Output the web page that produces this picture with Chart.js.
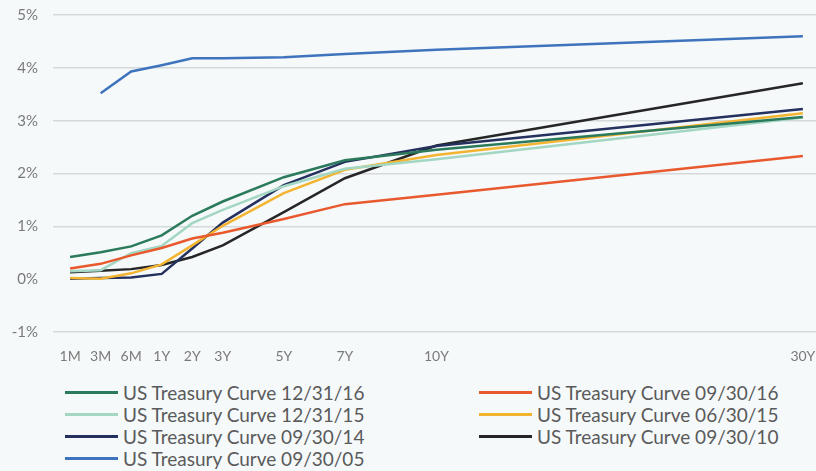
<!DOCTYPE html>
<html><head><meta charset="utf-8">
<script src="https://cdn.jsdelivr.net/npm/chart.js@4/dist/chart.umd.min.js"></script>
<style>
html,body{margin:0;padding:0;background:#f5f9fa;}
#wrap{position:relative;width:816px;height:471px;overflow:hidden;background:#f5f9fa;}
#cbox{position:absolute;left:0;top:0;width:816px;height:372px;}
.legend{position:absolute;font-family:Lato, "Open Sans", sans-serif;font-size:19px;color:#5a5a5a;}
.item{display:flex;align-items:center;height:22px;white-space:nowrap;}
.sw{display:inline-block;width:53px;height:3px;margin-right:5px;}
</style></head>
<body>
<div id="wrap">
  <div id="cbox"><canvas id="c"></canvas></div>
  <div class="legend" id="legL" style="left:65px;top:381px;"></div>
  <div class="legend" id="legR" style="left:479px;top:381px;"></div>
</div>
<script>
const maturities = ['1M','3M','6M','1Y','2Y','3Y','5Y','7Y','10Y','30Y'];
const axisPositions = [0,1,2,3,4,5,7,9,12,24];
const yTicks = [-1,0,1,2,3,4,5];

const curve161231 = [0.42,0.51,0.62,0.83,1.20,1.47,1.93,2.25,2.45,3.07];
const curve160930 = [0.20,0.29,0.45,0.59,0.77,0.88,1.14,1.42,1.60,2.33];
const curve151231 = [0.15,0.17,0.49,0.63,1.06,1.31,1.76,2.09,2.27,3.06];
const curve150630 = [0.02,0.01,0.11,0.28,0.64,1.01,1.63,2.07,2.35,3.14];
const curve140930 = [0.01,0.02,0.03,0.10,0.58,1.07,1.78,2.22,2.52,3.22];
const curve100930 = [0.13,0.16,0.19,0.27,0.42,0.64,1.27,1.91,2.53,3.71];
const curve050930 = [null,3.52,3.93,4.05,4.18,4.18,4.20,4.26,4.34,4.60];

const seriesNames = ['US Treasury Curve 12/31/16','US Treasury Curve 09/30/16','US Treasury Curve 12/31/15','US Treasury Curve 06/30/15','US Treasury Curve 09/30/14','US Treasury Curve 09/30/10','US Treasury Curve 09/30/05'];
const seriesValues = [curve161231,curve160930,curve151231,curve150630,curve140930,curve100930,curve050930];
const seriesColors = ['#2b7a5c','#e8592e','#a3d6c3','#f2b431','#24305e','#262626','#3e73bd'];

const datasets = seriesNames.map((name,k)=>({
  label:name,
  data: maturities.map((m,i)=>({x:axisPositions[i], y:seriesValues[k][i]})),
  borderColor: seriesColors[k],
  backgroundColor: seriesColors[k],
  borderWidth: 2.5,
  pointRadius: 0,
  tension: 0,
  fill: false,
  order: k
}));

new Chart(document.getElementById('c'), {
  type:'line',
  data:{datasets},
  options:{
    responsive:true, maintainAspectRatio:false, animation:false,
    layout:{padding:{top:0,right:0,bottom:0,left:0}},
    plugins:{legend:{display:false}, tooltip:{enabled:false}},
    scales:{
      x:{
        type:'linear', min:-0.56, max:24.43,
        grid:{display:false}, border:{display:false},
        afterBuildTicks:(s)=>{ s.ticks = axisPositions.map(v=>({value:v})); },
        afterFit:(s)=>{ s.height = 40; s.paddingLeft = 0; s.paddingRight = 0; },
        ticks:{
          autoSkip:false, maxRotation:0, padding:8,
          color:'#7a7a7a', font:{family:'Lato, sans-serif', size:14},
          callback:(v)=>maturities[axisPositions.indexOf(v)]
        }
      },
      y:{
        min:-1, max:5,
        afterBuildTicks:(s)=>{ s.ticks = yTicks.map(v=>({value:v})); },
        afterFit:(s)=>{ s.width = 53; s.paddingTop = 15; s.paddingBottom = 0; },
        grid:{drawTicks:false, color:(ctx)=> ctx.tick && ctx.tick.value===0 ? 'rgba(0,0,0,0)' : '#d6d9da', lineWidth:1.5},
        border:{display:false},
        ticks:{padding:15, color:'#7a7a7a', font:{family:'Lato, sans-serif', size:15}, callback:(v)=>v+'%'}
      }
    }
  }
});

const leftIdx=[0,2,4,6], rightIdx=[1,3,5];
function fill(id, idxs){
  const el=document.getElementById(id);
  idxs.forEach(i=>{
    const row=document.createElement('div'); row.className='item';
    const sw=document.createElement('span'); sw.className='sw'; sw.style.background=seriesColors[i];
    const t=document.createElement('span'); t.textContent=seriesNames[i];
    row.appendChild(sw); row.appendChild(t); el.appendChild(row);
  });
}
fill('legL', leftIdx); fill('legR', rightIdx);
</script>
</body></html>
